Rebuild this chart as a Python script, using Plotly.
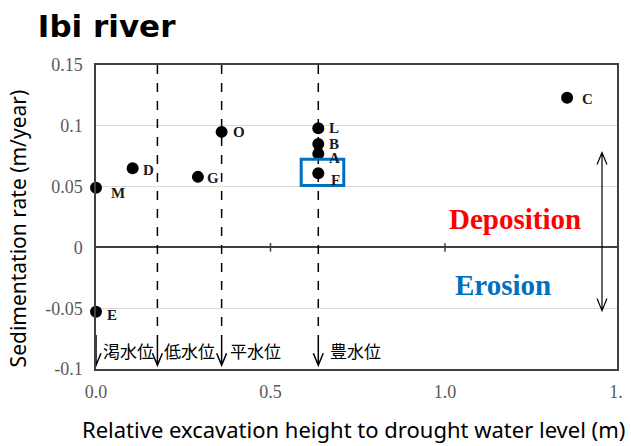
import plotly.graph_objects as go

# ---- data ----
site_names = ["M", "E", "D", "G", "O", "L", "B", "A", "F", "C"]
excavation_height = [0.0, 0.0, 0.105, 0.292, 0.36, 0.637, 0.637, 0.637, 0.637, 1.35]
sedimentation_rate = [0.049, -0.053, 0.065, 0.058, 0.095, 0.098, 0.085, 0.077, 0.061, 0.123]

water_level_names = ["渇水位", "低水位", "平水位", "豊水位"]
water_level_heights = [0.0, 0.176, 0.36, 0.637]

x_tick_vals = [0.0, 0.5, 1.0, 1.49]
x_tick_text = ["0.0", "0.5", "1.0", "1."]
y_tick_vals = [-0.1, -0.05, 0.0, 0.05, 0.1, 0.15]
y_tick_text = ["-0.1", "-0.05", "0", "0.05", "0.1", "0.15"]

# ---- styles ----
X_RANGE = [0, 1.493]
Y_RANGE = [-0.1, 0.15]
DARK = "#404040"
GRAY = "#595959"

label_shift = {  # pixel offsets of site labels from their points
    "M": (22, -5), "E": (16, -3), "D": (16, -2), "G": (15, -1), "O": (17, 0),
    "L": (16, 0), "B": (16, 0), "A": (16, -4), "F": (17, -7), "C": (20, -1),
}
jp_shift = [5, 5, 6, 10]

fig = go.Figure()
fig.add_trace(go.Scatter(
    x=excavation_height, y=sedimentation_rate, mode="markers",
    marker=dict(size=12, color="black"), cliponaxis=False, hoverinfo="skip",
    showlegend=False,
))

for name, xv, yv in zip(site_names, excavation_height, sedimentation_rate):
    dx, dy = label_shift[name]
    fig.add_annotation(x=xv, y=yv, text=f"<b>{name}</b>", showarrow=False,
                       xshift=dx, yshift=dy,
                       font=dict(family="Liberation Serif", size=15, color="#1a1a1a"))

shapes = []
arrow_top = -0.072
tip = Y_RANGE[0] + 0.003
head_dx = 0.0142
head_dy = 0.0099
for i, (name, h) in enumerate(zip(water_level_names, water_level_heights)):
    if i > 0:
        shapes.append(dict(type="line", xref="x", yref="y", x0=h, x1=h,
                           y0=Y_RANGE[1], y1=arrow_top,
                           line=dict(color="black", width=1.5, dash="dash")))
    shapes.append(dict(type="path", xref="x", yref="y",
                       path=(f"M {h},{arrow_top} L {h},{tip} "
                             f"M {h - head_dx},{tip + head_dy} "
                             f"L {h},{tip} "
                             f"L {h + head_dx},{tip + head_dy}"),
                       line=dict(color="black", width=1.5)))
    fig.add_annotation(x=h, y=-0.085, text=name, showarrow=False, xanchor="left",
                       xshift=jp_shift[i],
                       font=dict(family="Noto Sans CJK JP", size=17, color="black"))

# zero line tick marks
for tv in [0.5, 1.0]:
    shapes.append(dict(type="line", xref="x", yref="y", x0=tv, x1=tv,
                       y0=-0.0035, y1=0.0035, line=dict(color=DARK, width=1.5)))

# double-headed arrow
ax_x = 1.45
top_y, bot_y = 0.078, -0.052
shapes.append(dict(type="path", xref="x", yref="y",
                   path=(f"M {ax_x},{top_y} L {ax_x},{bot_y} "
                         f"M {ax_x - head_dx},{top_y - head_dy} L {ax_x},{top_y} L {ax_x + head_dx},{top_y - head_dy} "
                         f"M {ax_x - head_dx},{bot_y + head_dy} L {ax_x},{bot_y} L {ax_x + head_dx},{bot_y + head_dy}"),
                   line=dict(color="black", width=1.2)))

# highlight box around F
shapes.append(dict(type="rect", xref="x", yref="y", x0=0.588, x1=0.71,
                   y0=0.051, y1=0.0725, line=dict(color="#0070C0", width=3)))

fig.update_layout(shapes=shapes)

fig.add_annotation(x=1.2, y=0.023, text="<b>Deposition</b>", showarrow=False,
                   font=dict(family="Liberation Serif", size=29, color="#FF0000"))
fig.add_annotation(x=1.165, y=-0.031, text="<b>Erosion</b>", showarrow=False,
                   font=dict(family="Liberation Serif", size=29, color="#0070C0"))

# axis titles as annotations (placed as in the reference)
fig.add_annotation(xref="paper", yref="paper", x=-0.15, y=0.462,
                   xanchor="center", yanchor="middle",
                   text="Sedimentation rate (m/year)", textangle=-90, showarrow=False,
                   font=dict(family="Noto Sans", size=21, color="black"))
fig.add_annotation(xref="paper", yref="paper", x=0.494, y=-0.198,
                   xanchor="center", yanchor="middle",
                   text="Relative excavation height to drought water level (m)",
                   showarrow=False,
                   font=dict(family="Noto Sans", size=22, color="black"))

fig.update_layout(
    width=631, height=446,
    margin=dict(l=96, r=8, t=65, b=77),
    paper_bgcolor="white", plot_bgcolor="white",
    title=dict(text="<b>Ibi river</b>", x=0.06, xanchor="left", y=0.942, yanchor="middle",
               font=dict(family="DejaVu Sans", size=31, color="black")),
    xaxis=dict(range=X_RANGE, tickvals=x_tick_vals, ticktext=x_tick_text,
               showgrid=False, zeroline=False, showline=True, mirror=True,
               linecolor=DARK, linewidth=1.5, ticks="", ticklabelstandoff=6,
               tickfont=dict(family="Liberation Serif", size=18, color=GRAY)),
    yaxis=dict(range=Y_RANGE, tickvals=y_tick_vals, ticktext=y_tick_text,
               showgrid=True, gridcolor="#d9d9d9", gridwidth=1,
               zeroline=True, zerolinecolor=DARK, zerolinewidth=1.5,
               showline=True, mirror=True, linecolor=DARK, linewidth=1.5, ticks="",
               ticklabelstandoff=8,
               tickfont=dict(family="Liberation Serif", size=18, color=GRAY)),
)

fig.write_html("out.html")
